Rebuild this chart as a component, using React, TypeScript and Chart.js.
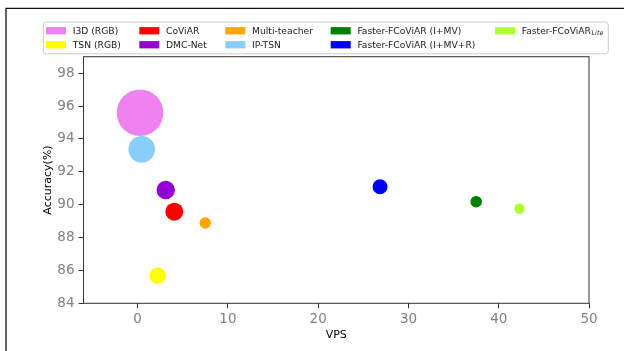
import React, { useEffect, useRef } from 'react';
import { Chart, registerables } from 'chart.js';

Chart.register(...registerables);

const methods = [
  'I3D (RGB)',
  'TSN (RGB)',
  'CoViAR',
  'DMC-Net',
  'Multi-teacher',
  'IP-TSN',
  'Faster-FCoViAR (I+MV)',
  'Faster-FCoViAR (I+MV+R)',
  'Faster-FCoViAR_Lite',
];
const vps = [0.26, 2.22, 4.06, 3.11, 7.49, 0.45, 37.5, 26.85, 42.3];
const accuracy = [95.59, 85.68, 89.57, 90.89, 88.88, 93.37, 90.18, 91.09, 89.75];
const bubbleRadius = [23.3, 8.2, 9.0, 9.2, 5.7, 13.3, 5.8, 7.5, 5.2];
const colors = [
  '#EE82EE',
  '#FFFF00',
  '#FF0000',
  '#9400D3',
  '#FFA500',
  '#87CEFA',
  '#008000',
  '#0000FF',
  '#ADFF2F',
];
const xTicks = [0, 10, 20, 30, 40, 50];
const yTicks = [84, 86, 88, 90, 92, 94, 96, 98];

const FONT = '"DejaVu Sans", Verdana, sans-serif';

const decorPlugin = {
  id: 'mplDecor',
  afterDraw(chart: any) {
    const ctx = chart.ctx as CanvasRenderingContext2D;
    const a = chart.chartArea;
    ctx.save();
    // outer frame (top + left)
    ctx.strokeStyle = '#111';
    ctx.lineWidth = 1.3;
    ctx.beginPath();
    ctx.moveTo(6, 351);
    ctx.lineTo(6, 8.3);
    ctx.lineTo(624, 8.3);
    ctx.stroke();

    // spines
    ctx.strokeStyle = '#333';
    ctx.lineWidth = 1;
    ctx.strokeRect(a.left, a.top, a.right - a.left, a.bottom - a.top);

    // legend
    const fs = 9.2;
    const mainFont = `${fs}px ${FONT}`;
    const subFont = `italic ${6.4}px ${FONT}`;
    const nrow = 2;
    const boxLeft = 43.3;
    const boxTop = 22;
    const boxRight = 608.3;
    const boxBottom = 53.8;
    const rowY = [30.7, 44.7];
    const colX = [46, 139.3, 225.3, 330.7, 495];
    const handle = 20;
    const textOffset = 26.7;

    ctx.fillStyle = 'rgba(255,255,255,0.8)';
    ctx.strokeStyle = '#cccccc';
    ctx.lineWidth = 1;
    ctx.beginPath();
    (ctx as any).roundRect(boxLeft, boxTop, boxRight - boxLeft, boxBottom - boxTop, 3);
    ctx.fill();
    ctx.stroke();

    ctx.textBaseline = 'middle';
    ctx.textAlign = 'left';
    methods.forEach((label, i) => {
      const c = Math.floor(i / nrow);
      const r = i % nrow;
      const x = colX[c];
      const y = rowY[r];
      ctx.fillStyle = colors[i];
      ctx.fillRect(x, y - 3.6, handle, 7.3);
      const tx = x + textOffset;
      const parts = label.split('_');
      ctx.fillStyle = '#1a1a1a';
      ctx.font = mainFont;
      ctx.fillText(parts[0], tx, y + 0.5);
      if (parts[1]) {
        const w0 = ctx.measureText(parts[0]).width;
        ctx.font = subFont;
        ctx.fillText(parts[1], tx + w0 + 0.6, y + 3);
        ctx.font = mainFont;
      }
    });
    ctx.restore();
  },
};

export default function App() {
  const ref = useRef<HTMLCanvasElement | null>(null);

  useEffect(() => {
    if (!ref.current) return;
    const datasets = methods.map((m, i) => ({
      label: m,
      data: [{ x: vps[i], y: accuracy[i], r: bubbleRadius[i] }],
      backgroundColor: colors[i],
      borderWidth: 0,
      hoverRadius: 0,
    }));
    const chart = new Chart(ref.current, {
      type: 'bubble',
      data: { datasets },
      options: {
        responsive: false,
        animation: false,
        devicePixelRatio: 1,
        layout: { padding: { left: 0, right: 35, top: 56.7, bottom: 0 } },
        plugins: {
          legend: { display: false },
          tooltip: { enabled: false },
        },
        scales: {
          x: {
            type: 'linear',
            min: -6,
            max: 50,
            afterBuildTicks: (s: any) => {
              s.ticks = xTicks.map((v) => ({ value: v }));
            },
            afterFit: (s: any) => {
              s.height = 47.7;
            },
            grid: { drawOnChartArea: false, drawTicks: true, tickLength: 5, color: '#333', lineWidth: 1 },
            border: { display: false },
            ticks: {
              font: { family: FONT, size: 13.5 },
              color: '#808080',
              padding: 3,
              maxRotation: 0,
              autoSkip: false,
            },
            title: {
              display: true,
              text: 'VPS',
              color: '#000',
              font: { family: FONT, size: 11 },
              padding: { top: 0, bottom: 9.5 },
            },
          },
          y: {
            type: 'linear',
            min: 84,
            max: 99,
            afterBuildTicks: (s: any) => {
              s.ticks = yTicks.map((v) => ({ value: v }));
            },
            afterFit: (s: any) => {
              s.width = 83.5;
            },
            grid: { drawOnChartArea: false, drawTicks: true, tickLength: 5, color: '#333', lineWidth: 1 },
            border: { display: false },
            ticks: {
              font: { family: FONT, size: 13.5 },
              color: '#808080',
              padding: 4,
              autoSkip: false,
            },
            title: {
              display: true,
              text: 'Accuracy(%)',
              color: '#000',
              font: { family: FONT, size: 11 },
              padding: { top: 41.4, bottom: 0 },
            },
          },
        },
      },
      plugins: [decorPlugin],
    } as any);
    return () => chart.destroy();
  }, []);

  return (
    <div style={{ position: 'absolute', left: 0, top: 0, width: 624, height: 351, background: '#fff' }}>
      <canvas ref={ref} width={624} height={351} style={{ display: 'block' }} />
    </div>
  );
}
